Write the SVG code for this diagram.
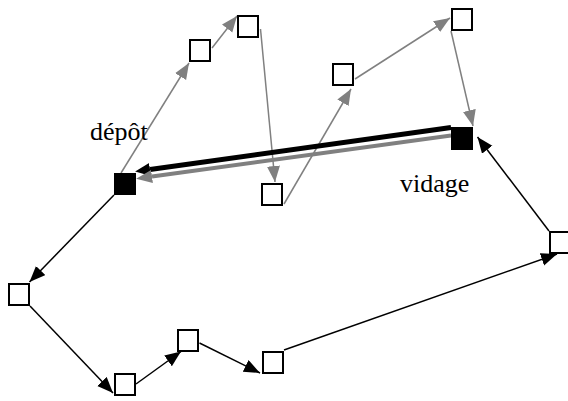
<svg xmlns="http://www.w3.org/2000/svg" width="568" height="401" viewBox="0 0 568 401">
  <style>
    .node { fill: #ffffff; stroke: #000000; stroke-width: 2; }
    .full { fill: #000000; stroke: #000000; stroke-width: 2; }
    .blk { fill: none; stroke: #000000; stroke-width: 1.5; marker-end: url(#headBlack); }
    .gry { fill: none; stroke: #808080; stroke-width: 1.5; marker-end: url(#headGray); }
    .thickBlk { fill: none; stroke: #000000; stroke-width: 5; marker-end: url(#baseBlack); }
    .thickGry { fill: none; stroke: #808080; stroke-width: 4; marker-end: url(#baseGray); }
    .lbl { font-family: "Liberation Serif", "Times New Roman", serif; font-size: 26px; fill: #000000; }
  </style>
  <defs>
    <!-- tip placed at the path end -->
    <marker id="headBlack" markerUnits="userSpaceOnUse" markerWidth="17" markerHeight="14" refX="16" refY="6.5" orient="auto">
      <path d="M0,0 L16,6.5 L0,13 z" fill="#000000"/>
    </marker>
    <marker id="headGray" markerUnits="userSpaceOnUse" markerWidth="17" markerHeight="14" refX="16" refY="6.5" orient="auto">
      <path d="M0,0 L16,6.5 L0,13 z" fill="#808080"/>
    </marker>
    <!-- base placed at the path end, for the thick strokes -->
    <marker id="baseBlack" markerUnits="userSpaceOnUse" markerWidth="16" markerHeight="14" refX="0" refY="6.5" orient="auto">
      <path d="M0,0 L15,6.5 L0,13 z" fill="#000000"/>
    </marker>
    <marker id="baseGray" markerUnits="userSpaceOnUse" markerWidth="17" markerHeight="14" refX="0" refY="6.5" orient="auto">
      <path d="M0,0 L16,6.5 L0,13 z" fill="#808080"/>
    </marker>
  </defs>

  <g id="connectors">
    <!-- gray tour -->
    <path class="gry" d="M121,173 L189,63"/>
    <path class="gry" d="M212,48 L237,16"/>
    <path class="gry" d="M260.5,29 L275,182"/>
    <path class="gry" d="M284,204 L351,89"/>
    <path class="gry" d="M355,79 L450,18"/>
    <path class="gry" d="M451,31 L473,126"/>
    <!-- thick return links -->
    <path class="thickBlk" d="M451,127.5 L150,169.5"/>
    <path class="thickGry" d="M451,135.5 L152,176.5"/>
    <!-- black tour -->
    <path class="blk" d="M114,195 L29.5,282"/>
    <path class="blk" d="M30,306 L113,393"/>
    <path class="blk" d="M136,384 L181,351.5"/>
    <path class="blk" d="M199.5,343 L260,373"/>
    <path class="blk" d="M284,350 L557,254"/>
    <path class="blk" d="M549,231 L477.5,137"/>
  </g>

  <g id="depot">
    <rect class="full" x="115" y="174" width="20" height="20"/>
    <text class="lbl" x="90" y="140">dépôt</text>
  </g>
  <g id="vidage">
    <rect class="full" x="452" y="128" width="20" height="21"/>
    <text class="lbl" x="400" y="192">vidage</text>
  </g>
  <g id="n1"><rect class="node" x="190" y="40" width="20" height="21"/></g>
  <g id="n2"><rect class="node" x="238" y="16" width="20" height="21"/></g>
  <g id="n3"><rect class="node" x="262" y="184" width="20" height="21"/></g>
  <g id="n4"><rect class="node" x="333" y="64" width="20" height="21"/></g>
  <g id="n5"><rect class="node" x="452" y="9" width="20" height="21"/></g>
  <g id="n6"><rect class="node" x="9" y="284" width="20" height="21"/></g>
  <g id="n7"><rect class="node" x="115" y="374" width="20" height="21"/></g>
  <g id="n8"><rect class="node" x="178" y="330" width="20" height="21"/></g>
  <g id="n9"><rect class="node" x="263" y="352" width="20" height="21"/></g>
  <g id="n10"><rect class="node" x="550" y="232" width="20" height="21"/></g>
</svg>
